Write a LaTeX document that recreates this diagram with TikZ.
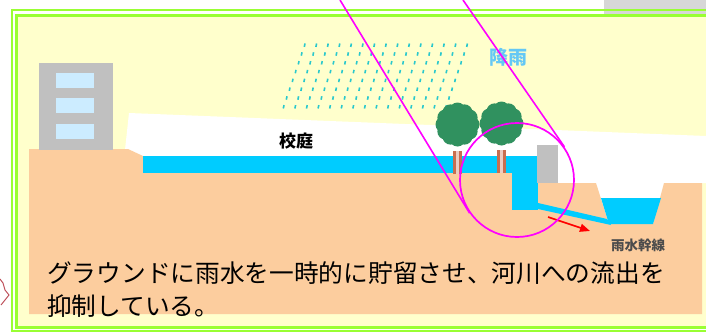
\documentclass[tikz,border=0pt]{standalone}
\usepackage{fontspec}
\newfontfamily\jp{Noto Sans CJK JP}
\usetikzlibrary{arrows.meta}
\definecolor{frame}{RGB}{153,255,51}
\definecolor{sky}{RGB}{255,255,204}
\definecolor{soil}{RGB}{252,205,158}
\definecolor{water}{RGB}{0,204,255}
\definecolor{concrete}{RGB}{192,192,192}
\definecolor{pane}{RGB}{204,236,255}
\definecolor{rain}{RGB}{40,200,205}
\definecolor{rainword}{RGB}{100,200,245}
\definecolor{leafy}{RGB}{48,145,95}
\definecolor{bark}{RGB}{200,110,80}
\definecolor{lens}{RGB}{255,0,255}
\definecolor{flowred}{RGB}{255,0,0}
\definecolor{scrap}{RGB}{215,215,215}
\definecolor{mapline}{RGB}{190,80,90}
\tikzset{
  >={Triangle[length=10pt,width=8pt]},
  word/.style={font=\jp\fontsize{#1}{#1}\selectfont\bfseries,inner sep=0pt},
  caption/.style={font=\jp\fontsize{24.7}{33}\selectfont,align=left,inner sep=0pt,anchor=north west},
  frameline/.style={draw=frame,line width=#1},
  frameline/.default=2.2pt,
  drop/.style={draw=rain,line width=1.6pt},
  lensring/.style={circle,draw=lens,line width=1.7pt,minimum size=114pt,inner sep=0pt},
  lensline/.style={draw=lens,line width=1.6pt},
  flow/.style={->,draw=flowred,fill=flowred,line width=1.6pt},
  % pictograms
  pics/tree/.style={code={
    \fill[bark] (-4.5,26) rectangle (4.5,49);
    \fill[bark!35!white] (-1.3,26) rectangle (1.3,49);
    \fill[leafy] (0,0) circle (15);
    \foreach \a in {0,30,...,330} \fill[leafy] (\a:14) circle (8);
  }},
}
\begin{document}
\begin{tikzpicture}[x=1pt,y=-1pt]
  \useasboundingbox (0,0) rectangle (706,332);
  \fill[white] (0,0) rectangle (706,332);
  \fill[scrap] (604,0) rectangle (706,14);
  \draw[mapline,line width=1pt] (0,279) -- (3,283) -- (5,290) -- (9,295) -- (5,300) -- (1,305);
  \fill[sky] (17,15) rectangle (706,327);
  \draw[frameline] (12,10) rectangle (730,331);
  \draw[frameline=3pt] (16.5,15.5) rectangle (725,327.5);
  % ground, water and structures
  \fill[white] (125,150) -- (129,113) -- (706,136) -- (706,183) -- (702,183) -- (702,230) -- (125,230) -- cycle;
  \fill[soil] (29,314) -- (29,149) -- (128,149) -- (143,156) -- (538,156) -- (538,183) -- (596,183)
    -- (609,224) -- (653,224) -- (664,183) -- (702,183) -- (702,314) -- cycle;
  \fill[water] (143,156) rectangle (512,173);
  \fill[water] (512,156) rectangle (538,210);
  \fill[water] (538,203) -- (607,219) -- (611,225) -- (538,209) -- cycle;
  \fill[water] (601,198) -- (661,198) -- (653,224) -- (609,224) -- cycle;
  \fill[concrete] (537,145) rectangle (558,183);
  \fill[concrete] (39,63) rectangle (113,150);
  \foreach \y in {73,98,124} \fill[pane] (56,\y) rectangle (94,\y+15);
  \foreach \r in {0,...,7}
    \foreach \c in {0,...,14}
      \draw[drop] ({305-3*\r+11.6*\c},{43.5+8.8*\r}) -- ++(-0.7,3.4);
  \pic at (457.5,124.5) {tree};
  \pic at (501.5,123.5) {tree};
  \node[word=19,text=rainword] (rainlbl) at (508,57) {降雨};
  \node[word=17] (yard) at (296,141) {校庭};
  \node[word=13.5,text=black!70] (sewer) at (638,245) {雨水幹線};
  \coordinate (flowfrom) at (548,217);
  \coordinate (flowto) at (590,231);
  \draw[flow] (flowfrom) -- (flowto);
  \node[lensring] (zoom) at (517,180) {};
  \coordinate (lensA) at (340,0);
  \coordinate (lensB) at (463,0);
  \draw[lensline] (lensA) -- (zoom.215);
  \draw[lensline] (lensB) -- (zoom.35);
  \node[caption] (note) at (47,261.5) {グラウンドに雨水を一時的に貯留させ、河川への流出を\\抑制している。};
\end{tikzpicture}
\end{document}
